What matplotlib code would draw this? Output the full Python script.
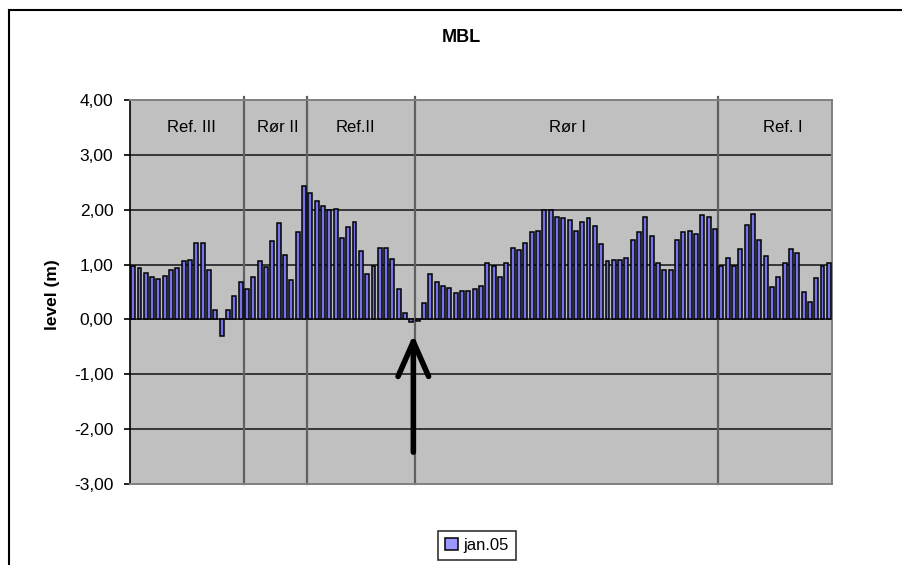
import matplotlib
matplotlib.use("Agg")
import matplotlib.pyplot as plt
from matplotlib.lines import Line2D
from matplotlib.ticker import FuncFormatter, FixedLocator
import numpy as np

plt.rcParams['font.family'] = ['Liberation Sans', 'DejaVu Sans']

title = "MBL"
ylabel = "level (m)"
series_name = "jan.05"
values = [0.98, 0.93, 0.84, 0.78, 0.74, 0.80, 0.90, 0.93, 1.06, 1.09,
          1.40, 1.40, 0.90, 0.18, -0.30, 0.18, 0.43, 0.68, 0.55, 0.78,
          1.06, 0.96, 1.43, 1.75, 1.18, 0.71, 1.59, 2.43, 2.30, 2.15,
          2.06, 2.00, 2.02, 1.49, 1.68, 1.78, 1.25, 0.83, 0.98, 1.30,
          1.30, 1.11, 0.56, 0.11, -0.04, -0.03, 0.30, 0.83, 0.68, 0.61,
          0.58, 0.49, 0.52, 0.52, 0.55, 0.61, 1.02, 0.98, 0.78, 1.02,
          1.30, 1.27, 1.40, 1.59, 1.62, 2.00, 2.00, 1.87, 1.84, 1.81,
          1.62, 1.78, 1.84, 1.71, 1.38, 1.06, 1.09, 1.09, 1.12, 1.44,
          1.59, 1.87, 1.52, 1.03, 0.91, 0.91, 1.44, 1.59, 1.62, 1.56,
          1.90, 1.87, 1.65, 0.97, 1.12, 0.97, 1.28, 1.72, 1.93, 1.44,
          1.15, 0.60, 0.78, 1.03, 1.28, 1.22, 0.50, 0.31, 0.75, 0.98,
          1.03]
region_names = ["Ref. III", "Rør II", "Ref.II", "Rør I", "Ref. I"]
region_label_x = [9.65, 23.4, 35.65, 69.1, 103.3]
dividers = [18, 28, 45, 93]
yticks = [4, 3, 2, 1, 0, -1, -2, -3]
arrow_x = 44.8
arrow_tip = -0.28
arrow_tail = -2.42

W, H = 903, 565
fig = plt.figure(figsize=(W / 100, H / 100), dpi=100)
fig.patch.set_facecolor('white')

L, R, T, B = 130, 832, 100, 484
ax = fig.add_axes([L / W, 1 - B / H, (R - L) / W, (B - T) / H])
ax.set_facecolor('#C0C0C0')

n = len(values)
x = np.arange(n) + 0.5
ax.bar(x, values, width=0.62, color='#7474E8', edgecolor='black',
       linewidth=1.1, zorder=3, label=series_name)

ax.set_xlim(0, n)
ax.set_ylim(-3, 4)
ax.yaxis.set_major_locator(FixedLocator(yticks))
ax.yaxis.set_major_formatter(FuncFormatter(lambda v, p: f"{v:.2f}".replace('.', ',')))
ax.set_xticks([])
ax.tick_params(axis='y', length=4, width=1.2, pad=8, labelsize=12.5, colors='black')

for gy in yticks[1:-1]:
    ax.axhline(gy, color='#202020', linewidth=1.2, zorder=2)

for d in dividers:
    ax.plot([d, d], [-3, 4.06], color='#606060', linewidth=1.6, zorder=2,
            clip_on=False)

for s in ['top', 'right', 'bottom']:
    ax.spines[s].set_color('#808080')
    ax.spines[s].set_linewidth(1.4)
ax.spines['left'].set_color('black')
ax.spines['left'].set_linewidth(1.2)

for name, lx in zip(region_names, region_label_x):
    ax.text(lx, 3.5, name, ha='center', va='center', fontsize=12, zorder=4)

ax.annotate('', xy=(arrow_x, arrow_tip), xytext=(arrow_x, arrow_tail),
            arrowprops=dict(arrowstyle='->,head_length=2.5,head_width=1.1',
                            mutation_scale=10, linewidth=4, color='black',
                            shrinkA=0, shrinkB=0,
                            capstyle='round', joinstyle='round'),
            zorder=5, annotation_clip=False)

fig.text(461 / W, 1 - 38 / H, title, ha='center', va='center',
         fontsize=13, fontweight='bold')
fig.text(53 / W, 1 - 295 / H, ylabel, ha='center', va='center',
         rotation=90, fontsize=12.5, fontweight='bold')

leg = fig.legend(loc='upper center', bbox_to_anchor=(477 / W, 1 - 531 / H),
                 fontsize=12, frameon=True, fancybox=False, edgecolor='black',
                 handlelength=0.8, handleheight=0.8, handletextpad=0.3,
                 borderpad=0.4, borderaxespad=0)
leg.get_frame().set_linewidth(1.2)
for h in leg.legend_handles:
    h.set_facecolor('#9999FF')

fig.add_artist(Line2D([9 / W, 9 / W], [0, 1 - 10 / H], transform=fig.transFigure,
                      color='black', linewidth=1.5))
fig.add_artist(Line2D([9 / W, 1.0], [1 - 10 / H, 1 - 10 / H], transform=fig.transFigure,
                      color='black', linewidth=1.5))

fig.savefig('out.png', dpi=100)
